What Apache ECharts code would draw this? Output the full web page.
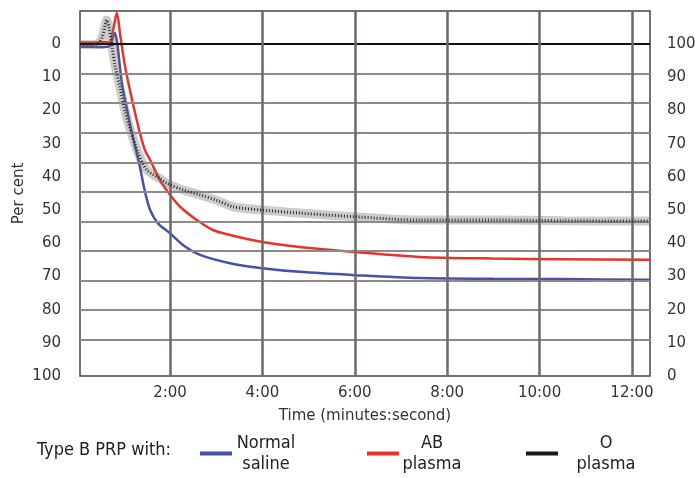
<!DOCTYPE html>
<html><head><meta charset="utf-8">
<script src="https://cdn.jsdelivr.net/npm/echarts@6/dist/echarts.min.js"></script>
<style>html,body{margin:0;padding:0;background:#fff}#c{width:695px;height:478px}</style>
</head><body><div id="c"></div>
<script>
// time in minutes, values in "Per cent" (left axis; 0 at top)
const salineTime = [0.06,0.3,0.5,0.65,0.7,0.75,0.81,0.86,0.96,1.03,1.18,1.35,1.45,1.57,1.74,2.0,2.28,2.65,3.3,4.0,4.8,6.0,7.4,9.0,10.5,12.39];
const salineVal  = [0.8,0.8,0.9,0.8,0.5,-1.5,-3.4,0,12,17,27,37,44,50,54,57,60.5,63.5,66,67.5,68.6,69.6,70.5,70.7,70.8,71];
const abTime = [0.06,0.4,0.65,0.7,0.78,0.85,0.92,1.03,1.18,1.35,1.46,1.57,1.78,2.0,2.22,2.58,2.93,3.3,4.0,4.81,6.0,7.41,9.0,10.5,12.39];
const abVal  = [-0.5,-0.5,-0.6,-0.5,-5,-9.5,-3,6.9,16.8,26.8,32,34.9,40.9,45.4,49,53,56,57.5,59.6,61.1,62.6,64.1,64.6,64.8,65];
const oTime = [0.06,0.3,0.45,0.53,0.6,0.63,0.68,0.75,0.81,0.92,1.03,1.13,1.31,1.5,1.78,1.94,2.3,2.65,3.0,3.37,4.0,4.81,6.0,7.41,9.0,10.5,12.39];
const oVal  = [0,0.2,-0.3,-2,-6,-7.3,-5,1,6.3,13.2,20.4,25.3,32.8,37.9,40.5,42,44,45.4,47,49,50,50.9,52,53,53,53.2,53.3];
const xTicks = [2,4,6,8,10,12];
const hGrid = [8.9,17.8,26.7,35.6,44.5,53.4,62.3,71.2,80.1,89.0];
const leftTicks = [0,10,20,30,40,50,60,70,80,90,100];
const names = ['Normal saline','AB plasma','O plasma'];

const pair = (t,v)=>t.map((x,i)=>[x,v[i]]);
const fmtTime = v => Math.round(v) + ':00';
const LF = '"Liberation Sans Narrow","DejaVu Sans Condensed",sans-serif';
const AF = '"DejaVu Sans",sans-serif';

const chart = echarts.init(document.getElementById('c'));
chart.setOption({
  animation:false,
  grid:{left:80,right:45,top:11,bottom:102,show:true,borderColor:'#444',borderWidth:1.5,backgroundColor:'#fff',
        containLabel:false,outerBoundsMode:'none'},
  xAxis:{type:'value',min:0.052,max:12.39,
    name:'Time (minutes:second)',nameLocation:'middle',nameGap:33,nameMoveOverlap:false,
    nameTextStyle:{fontFamily:AF,fontSize:15,color:'#333'},
    axisLine:{show:false},axisTick:{show:false},splitLine:{show:false},
    axisLabel:{customValues:xTicks,formatter:fmtTime,margin:10,fontFamily:AF,fontSize:15,color:'#333'}},
  yAxis:[
    {type:'value',inverse:true,min:-10,max:100,interval:10,
     name:'Per cent',nameLocation:'middle',nameGap:53,nameRotate:90,nameMoveOverlap:false,
     nameTextStyle:{fontFamily:AF,fontSize:15,color:'#333'},
     axisLine:{show:false},axisTick:{show:false},splitLine:{show:false},
     axisLabel:{margin:19,fontFamily:AF,fontSize:15,color:'#333',
       formatter:v=>leftTicks.includes(v)?String(v):''}},
    {type:'value',min:0,max:110,interval:10,position:'right',
     axisLine:{show:false},axisTick:{show:false},splitLine:{show:false},
     axisLabel:{margin:17,fontFamily:AF,fontSize:15,color:'#333',
       formatter:v=>v<=100?String(v):''}}
  ],
  legend:[
    {data:[names[0]],left:195,top:429,icon:'rect',itemWidth:32,itemHeight:4,itemGap:5,
     formatter:'{a|Normal}\n{a|saline}',
     textStyle:{rich:{a:{width:58,align:'center',fontFamily:LF,fontSize:18,color:'#222',lineHeight:21}}}},
    {data:[names[1]],left:362,top:429,icon:'rect',itemWidth:32,itemHeight:4,itemGap:5,
     formatter:'{a|AB}\n{a|plasma}',
     textStyle:{rich:{a:{width:56,align:'center',fontFamily:LF,fontSize:18,color:'#222',lineHeight:21}}}},
    {data:[names[2]],left:521,top:429,icon:'rect',itemWidth:32,itemHeight:4,itemGap:5,
     formatter:'{a|O}\n{a|plasma}',
     textStyle:{rich:{a:{width:86,align:'center',fontFamily:LF,fontSize:18,color:'#222',lineHeight:21}}}}
  ],
  graphic:[{type:'text',left:37,top:441,style:{text:'Type B PRP with:',font:'18px '+LF,fill:'#222'}}],
  series:[
    {type:'line',name:'hgrid',data:[],silent:true,z:1,
     markLine:{silent:true,symbol:'none',label:{show:false},animation:false,
       lineStyle:{color:'#8e8a8a',width:2,type:'solid'},
       data:hGrid.map(v=>({yAxis:v})).concat([{yAxis:0,lineStyle:{color:'#111',width:2}}])}},
    {type:'line',name:'vgrid',data:[],silent:true,z:1,
     markLine:{silent:true,symbol:'none',label:{show:false},animation:false,
       lineStyle:{color:'#6e6868',width:2.5,type:'solid'},
       data:xTicks.map(v=>({xAxis:v}))}},
    {type:'line',name:names[0],data:pair(salineTime,salineVal),showSymbol:false,smooth:0.3,z:3,
     color:'#4652a8',lineStyle:{color:'#4652a8',width:2.5}},
    {type:'line',name:names[1],data:pair(abTime,abVal),showSymbol:false,smooth:0.3,z:3,
     color:'#e8332b',lineStyle:{color:'#e8332b',width:2.5}},
    {type:'line',name:'O band',data:pair(oTime,oVal),showSymbol:false,smooth:0.3,z:4,
     lineStyle:{color:'rgba(110,110,110,0.35)',width:9}},
    {type:'line',name:names[2],data:pair(oTime,oVal),showSymbol:false,smooth:0.3,z:5,
     color:'#1a1a1a',lineStyle:{color:'#2a2a2a',width:3,type:[1,2]}}
  ]
});
</script></body></html>
